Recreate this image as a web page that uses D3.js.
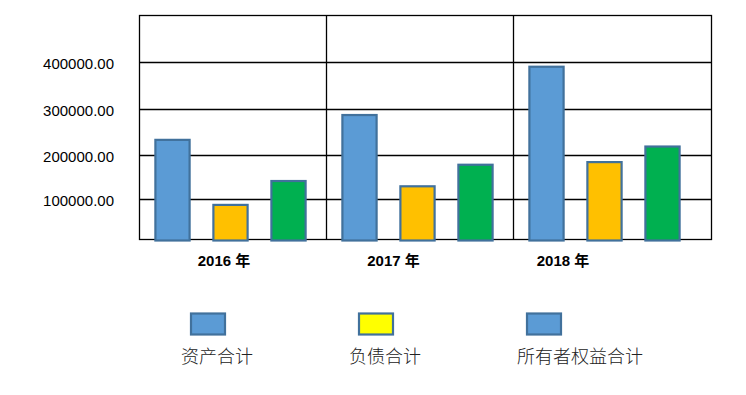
<!DOCTYPE html>
<html lang="zh">
<head>
<meta charset="utf-8">
<title>资产负债</title>
<script src="https://d3js.org/d3.v7.min.js"></script>
<style>
body { margin: 0; background: #fff; }
.frame line, .frame rect { stroke: #000; stroke-width: 1.3px; fill: none; }
.ylab { font-family: "Liberation Sans", Arial, sans-serif; font-size: 15px; fill: #000; }
.year { font-family: "Liberation Sans", Arial, "Noto Sans CJK SC", sans-serif; font-size: 15px; font-weight: bold; fill: #000; }
.leg { font-family: "Noto Sans CJK SC", sans-serif; font-size: 18px; font-weight: 300; fill: #222; }
</style>
</head>
<body>
<div id="chart"></div>
<script>
// data
var years = ["2016 年", "2017 年", "2018 年"];
var seriesNames = ["资产合计", "负债合计", "所有者权益合计"];
var assets = [234000, 288000, 391000];
var liabilities = [86500, 130000, 185000];
var equity = [142000, 179000, 219500];
var yTicks = [0, 100000, 200000, 300000, 400000, 500000];

var barColors = ["#5B9BD5", "#FFC000", "#00B050"];
var legendColors = ["#5B9BD5", "#FFFF00", "#5B9BD5"];
var edge = "#41719C";

var width = 746, height = 395;
var pLeft = 139.5, pRight = 711.5, pTop = 15.5, pBottom = 239.5;

var svg = d3.select("#chart").append("svg")
  .attr("width", width)
  .attr("height", height);

// grid lines in the picture are not evenly spaced, so map each tick
var y = d3.scaleLinear()
  .domain(yTicks)
  .range([pBottom, 199.5, 155.5, 109.5, 62.5, pTop]);

var x0 = d3.scaleBand()
  .domain(years)
  .range([pLeft, pLeft + 3 * 187]);

var x1 = d3.scaleBand()
  .domain(seriesNames)
  .range([4, 178])
  .paddingInner(0.41)
  .paddingOuter(0.205);

var rows = years.map(function(yr, i) {
  return { year: yr, values: [assets[i], liabilities[i], equity[i]] };
});

// frame + grid
var frame = svg.append("g").attr("class", "frame");
frame.selectAll("line.h")
  .data(yTicks.slice(1, -1))
  .enter().append("line")
  .attr("x1", pLeft).attr("x2", pRight)
  .attr("y1", function(d) { return y(d); })
  .attr("y2", function(d) { return y(d); });
frame.selectAll("line.v")
  .data(years.slice(1))
  .enter().append("line")
  .attr("x1", function(d) { return x0(d); })
  .attr("x2", function(d) { return x0(d); })
  .attr("y1", pTop).attr("y2", pBottom);
frame.append("rect")
  .attr("x", pLeft).attr("y", pTop)
  .attr("width", pRight - pLeft).attr("height", pBottom - pTop);

// y labels
svg.selectAll("text.ylab")
  .data(yTicks.slice(1, -1))
  .enter().append("text")
  .attr("class", "ylab")
  .attr("x", 114)
  .attr("y", function(d) { return y(d) + 3; })
  .attr("text-anchor", "end")
  .attr("dominant-baseline", "middle")
  .text(function(d) { return d3.format(".2f")(d); });

// bars
var groups = svg.selectAll("g.year")
  .data(rows)
  .enter().append("g")
  .attr("transform", function(d) { return "translate(" + x0(d.year) + ",0)"; });

groups.selectAll("rect")
  .data(function(d) { return d.values.map(function(v, i) { return { key: seriesNames[i], i: i, v: v }; }); })
  .enter().append("rect")
  .attr("x", function(d) { return x1(d.key); })
  .attr("y", function(d) { return y(d.v); })
  .attr("width", x1.bandwidth())
  .attr("height", function(d) { return y(0) + 1 - y(d.v); })
  .attr("fill", function(d) { return barColors[d.i]; })
  .attr("stroke", edge)
  .attr("stroke-width", 2.2);

// year labels
var xl = d3.scalePoint().domain(years).range([224, 563]);
svg.selectAll("text.year")
  .data(years)
  .enter().append("text")
  .attr("class", "year")
  .attr("x", function(d) { return xl(d); })
  .attr("y", 262)
  .attr("text-anchor", "middle")
  .attr("dominant-baseline", "middle")
  .text(function(d) { return d; });

// legend
var lx = d3.scalePoint().domain(seriesNames).range([181, 517]);
var leg = svg.selectAll("g.leg")
  .data(seriesNames)
  .enter().append("g")
  .attr("transform", function(d) { return "translate(" + lx(d) + ",0)"; });
leg.append("rect")
  .attr("x", 10).attr("y", 313.5)
  .attr("width", 34).attr("height", 21)
  .attr("fill", function(d, i) { return legendColors[i]; })
  .attr("stroke", edge)
  .attr("stroke-width", 2.2);
leg.append("text")
  .attr("class", "leg")
  .attr("x", 0).attr("y", 358)
  .attr("dominant-baseline", "middle")
  .text(function(d) { return d; });
</script>
</body>
</html>
